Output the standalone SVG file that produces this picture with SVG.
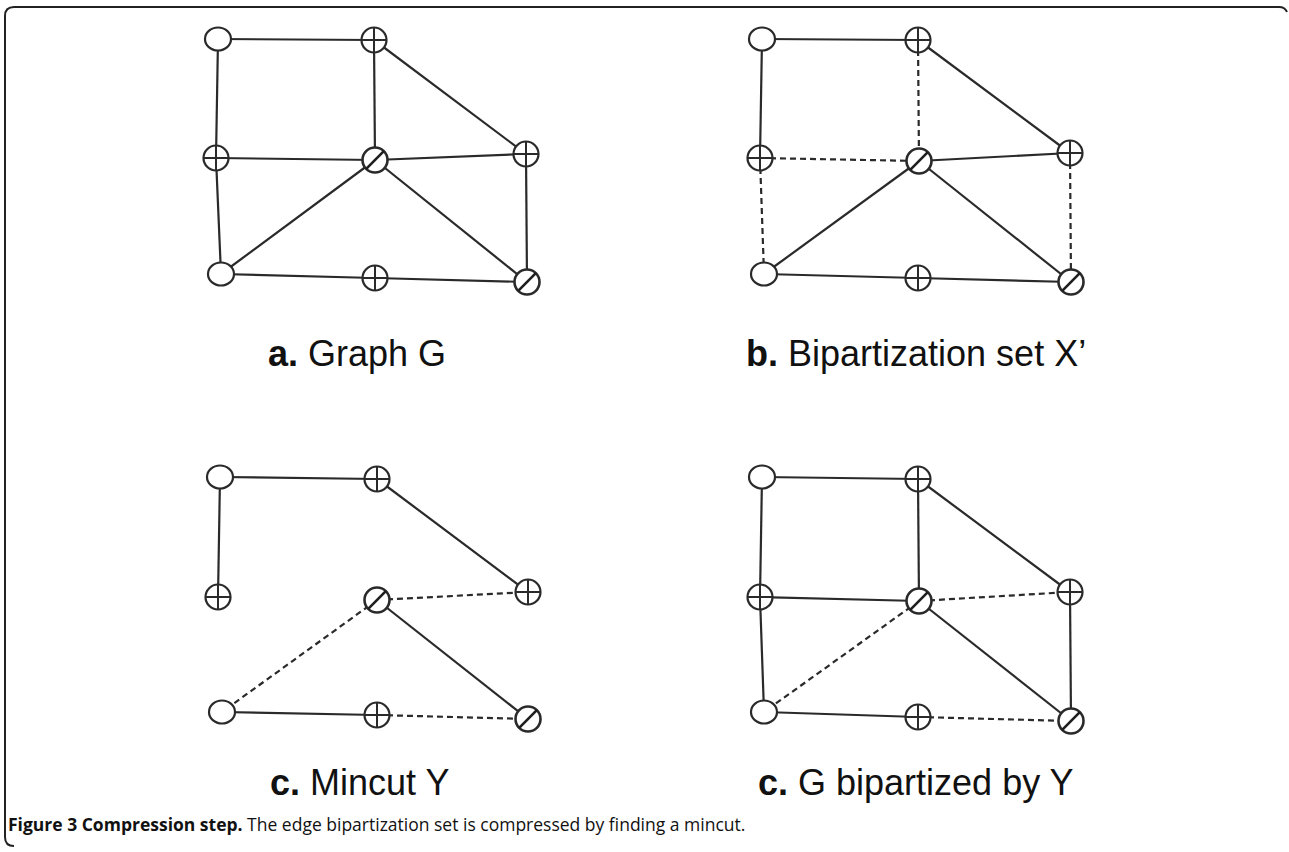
<svg xmlns="http://www.w3.org/2000/svg" xmlns:xlink="http://www.w3.org/1999/xlink" width="1289" height="852" viewBox="0 0 1289 852">
<style>
.e{stroke:#2a2a2a;stroke-width:2.2;fill:none}
.d{stroke-dasharray:6 4}
.nd{fill:#fff;stroke:#2a2a2a;stroke-width:2.2}
.mk{stroke:#2a2a2a;stroke-width:2;fill:none}
.sl{stroke:#1e1e1e;stroke-width:2.6;fill:none}
.lab{font-family:"Liberation Sans",Arial,sans-serif;font-size:36px;fill:#111}
.cap{font-family:"Open Sans","Noto Sans",sans-serif;font-size:17.5px;fill:#111}
</style>
<defs>
<g id="empty"><ellipse class="nd" cx="0" cy="0" rx="13" ry="11.5"/></g>
<g id="plus"><circle class="nd" cx="0" cy="0" r="12.5"/><path class="mk" d="M0 -12.5V12.5M-12.5 0H12.5"/></g>
<g id="slash"><circle class="nd" cx="0" cy="0" r="12.5" style="stroke-width:2.6"/><path class="sl" d="M-8.8 8.8L8.8 -8.8"/></g>
</defs>
<rect width="1289" height="852" fill="#fff"/>
<path d="M14 846Q5 846 5 837L5 16Q5 7 14 7L1279 7Q1285 7 1287 12" fill="none" stroke="#222" stroke-width="2"/>

<g id="connectors">
<g>
<path class="e" d="M218 39L374 40"/>
<path class="e" d="M218 39L216 158"/>
<path class="e" d="M374 40L375 160"/>
<path class="e" d="M374 40L526 154"/>
<path class="e" d="M216 158L375 160"/>
<path class="e" d="M375 160L526 154"/>
<path class="e" d="M216 158L221 274"/>
<path class="e" d="M375 160L221 274"/>
<path class="e" d="M375 160L527 282"/>
<path class="e" d="M526 154L527 282"/>
<path class="e" d="M221 274L375 278"/>
<path class="e" d="M375 278L527 282"/>
</g>
<g>
<path class="e" d="M762 39L918 40"/>
<path class="e" d="M762 39L760 158"/>
<path class="e d" d="M918 40L919 161"/>
<path class="e" d="M918 40L1070 153"/>
<path class="e d" d="M760 158L919 161"/>
<path class="e" d="M919 161L1070 153"/>
<path class="e d" d="M760 158L764 274"/>
<path class="e" d="M919 161L764 274"/>
<path class="e" d="M919 161L1071 282"/>
<path class="e d" d="M1070 153L1071 282"/>
<path class="e" d="M764 274L918 278"/>
<path class="e" d="M918 278L1071 282"/>
</g>
<g>
<path class="e" d="M220 477L377 479"/>
<path class="e" d="M220 477L218 597"/>
<path class="e" d="M377 479L528 592"/>
<path class="e d" d="M377 600L528 592"/>
<path class="e d" d="M377 600L222 712"/>
<path class="e" d="M377 600L528 719"/>
<path class="e" d="M222 712L377 715"/>
<path class="e d" d="M377 715L528 719"/>
</g>
<g>
<path class="e" d="M762 477L918 479"/>
<path class="e" d="M762 477L760 597"/>
<path class="e" d="M918 479L919 601"/>
<path class="e" d="M918 479L1070 592"/>
<path class="e" d="M760 597L919 601"/>
<path class="e d" d="M919 601L1070 592"/>
<path class="e" d="M760 597L764 712"/>
<path class="e d" d="M919 601L764 712"/>
<path class="e" d="M919 601L1071 721"/>
<path class="e" d="M1070 592L1071 721"/>
<path class="e" d="M764 712L918 717"/>
<path class="e d" d="M918 717L1071 721"/>
</g>
</g>

<g id="a-tl"><use xlink:href="#empty" x="218" y="39"/></g>
<g id="a-tp"><use xlink:href="#plus" x="374" y="40"/></g>
<g id="a-lp"><use xlink:href="#plus" x="216" y="158"/></g>
<g id="a-c"><use xlink:href="#slash" x="375" y="160"/></g>
<g id="a-rp"><use xlink:href="#plus" x="526" y="154"/></g>
<g id="a-bl"><use xlink:href="#empty" x="221" y="274"/></g>
<g id="a-bp"><use xlink:href="#plus" x="375" y="278"/></g>
<g id="a-br"><use xlink:href="#slash" x="527" y="282"/></g>

<g id="b-tl"><use xlink:href="#empty" x="762" y="39"/></g>
<g id="b-tp"><use xlink:href="#plus" x="918" y="40"/></g>
<g id="b-lp"><use xlink:href="#plus" x="760" y="158"/></g>
<g id="b-c"><use xlink:href="#slash" x="919" y="161"/></g>
<g id="b-rp"><use xlink:href="#plus" x="1070" y="153"/></g>
<g id="b-bl"><use xlink:href="#empty" x="764" y="274"/></g>
<g id="b-bp"><use xlink:href="#plus" x="918" y="278"/></g>
<g id="b-br"><use xlink:href="#slash" x="1071" y="282"/></g>

<g id="c-tl"><use xlink:href="#empty" x="220" y="477"/></g>
<g id="c-tp"><use xlink:href="#plus" x="377" y="479"/></g>
<g id="c-lp"><use xlink:href="#plus" x="218" y="597"/></g>
<g id="c-c"><use xlink:href="#slash" x="377" y="600"/></g>
<g id="c-rp"><use xlink:href="#plus" x="528" y="592"/></g>
<g id="c-bl"><use xlink:href="#empty" x="222" y="712"/></g>
<g id="c-bp"><use xlink:href="#plus" x="377" y="715"/></g>
<g id="c-br"><use xlink:href="#slash" x="528" y="719"/></g>

<g id="d-tl"><use xlink:href="#empty" x="762" y="477"/></g>
<g id="d-tp"><use xlink:href="#plus" x="918" y="479"/></g>
<g id="d-lp"><use xlink:href="#plus" x="760" y="597"/></g>
<g id="d-c"><use xlink:href="#slash" x="919" y="601"/></g>
<g id="d-rp"><use xlink:href="#plus" x="1070" y="592"/></g>
<g id="d-bl"><use xlink:href="#empty" x="764" y="712"/></g>
<g id="d-bp"><use xlink:href="#plus" x="918" y="717"/></g>
<g id="d-br"><use xlink:href="#slash" x="1071" y="721"/></g>

<g id="labels">
<text class="lab" x="268" y="366"><tspan font-weight="bold">a.</tspan> Graph G</text>
<text class="lab" x="746" y="366"><tspan font-weight="bold">b.</tspan> Bipartization set X’</text>
<text class="lab" x="270" y="795"><tspan font-weight="bold">c.</tspan> Mincut Y</text>
<text class="lab" x="758" y="795"><tspan font-weight="bold">c.</tspan> G bipartized by Y</text>
</g>
<g id="caption">
<text class="cap" x="8" y="831"><tspan font-weight="bold">Figure 3 Compression step.</tspan> The edge bipartization set is compressed by finding a mincut.</text>
</g>
</svg>
